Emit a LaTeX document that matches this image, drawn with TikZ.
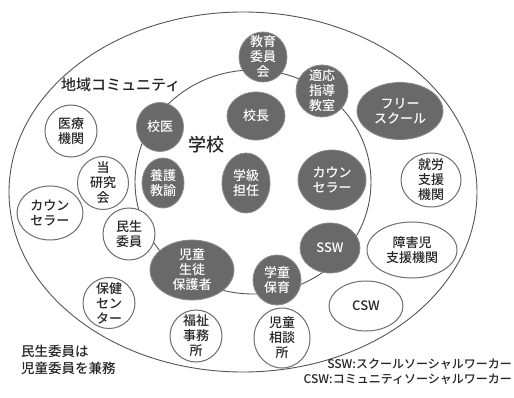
\documentclass[tikz,border=0pt]{standalone}
\usepackage{fontspec}
\newfontfamily\jp{Noto Sans CJK JP Medium}
\usetikzlibrary{shapes.geometric}
\definecolor{dkfill}{RGB}{105,105,105}
\definecolor{dkline}{RGB}{140,140,140}
\definecolor{ltline}{RGB}{110,110,110}
\definecolor{ringline}{RGB}{85,85,85}
\tikzset{
  dk/.style={ellipse, fill=dkfill, draw=dkline, line width=0.8pt, inner sep=0pt},
  lt/.style={ellipse, fill=white, draw=ltline, line width=1pt, inner sep=0pt},
  dt/.style={text=white, align=center, font=\jp\fontsize{13}{15}\selectfont},
  lx/.style={text=black!85, align=center, font=\jp\fontsize{13}{15}\selectfont},
  ring/.style={draw=ringline, line width=0.9pt},
  note/.style={text=black!85, align=left, font=\jp\fontsize{13.5}{17}\selectfont, inner sep=0pt}
}
\begin{document}
\begin{tikzpicture}[x=1pt,y=-1pt]
\useasboundingbox[fill=white] (0,0) rectangle (514,398);
% rings
\draw[ring] (243,192) ellipse [x radius=234, y radius=180];
\draw[ring] (253,182) ellipse [x radius=118, y radius=112];
% labels
\node[text=black!85, font=\jp\fontsize{15}{17}\selectfont, anchor=west, inner sep=0pt] (chiiki) at (61,85) {地域コミュニティ};
\node[text=black!85, font=\jp\fontsize{18}{20}\selectfont, inner sep=0pt] (gakko) at (206,145) {学校};
% dark nodes
\node[dk, minimum width=48pt, minimum height=50pt, label={[dt]center:{教育\\委員\\会}}] (kyoi) at (263,57) {};
\node[dk, minimum width=52pt, minimum height=52pt, label={[dt]center:{適応\\指導\\教室}}] (tekio) at (322,91) {};
\node[dk, minimum width=86pt, minimum height=57pt, label={[dt]center:{フリー\\スクール}}] (free) at (400,111) {};
\node[dk, minimum width=58pt, minimum height=48pt, label={[dt]center:{校長}}] (kocho) at (256,116) {};
\node[dk, minimum width=47pt, minimum height=49pt, label={[dt]center:{校医}}] (koi) at (160,127) {};
\node[dk, minimum width=42pt, minimum height=50pt, label={[dt]center:{養護\\教諭}}] (yogo) at (163,183) {};
\node[dk, minimum width=48pt, minimum height=60pt, label={[dt]center:{学級\\担任}}] (tannin) at (246,183) {};
\node[dk, minimum width=68pt, minimum height=60pt, label={[dt]center:{カウン\\セラー}}] (counS) at (332,180) {};
\node[dk, minimum width=60pt, minimum height=50pt, label={[dt]center:{SSW}}] (ssw) at (330,248) {};
\node[dk, minimum width=48pt, minimum height=50pt, label={[dt]center:{学童\\保育}}] (gakudo) at (277,280) {};
\node[dk, minimum width=84pt, minimum height=60pt, label={[dt]center:{児童\\生徒\\保護者}}] (hogo) at (192,270) {};
% light nodes
\node[lt, minimum width=52pt, minimum height=52pt, label={[lx]center:{医療\\機関}}] (iryo) at (71,131) {};
\node[lt, minimum width=51pt, minimum height=53pt, label={[lx]center:{当\\研究\\会}}] (kenkyu) at (103,183) {};
\node[lt, minimum width=66pt, minimum height=54pt, label={[lx]center:{カウン\\セラー}}] (counC) at (50,213) {};
\node[lt, minimum width=52pt, minimum height=52pt, label={[lx]center:{民生\\委員}}] (minsei) at (129,234) {};
\node[lt, minimum width=52pt, minimum height=51pt, label={[lx]center:{保健\\セン\\ター}}] (hoken) at (109,303) {};
\node[lt, minimum width=52pt, minimum height=52pt, label={[lx]center:{福祉\\事務\\所}}] (fukushi) at (196,336) {};
\node[lt, minimum width=56pt, minimum height=60pt, label={[lx]center:{児童\\相談\\所}}] (jiso) at (282,338) {};
\node[lt, minimum width=74pt, minimum height=50pt, label={[lx]center:{CSW}}] (csw) at (366,306) {};
\node[lt, minimum width=90pt, minimum height=56pt, label={[lx]center:{障害児\\支援機関}}] (shogai) at (412,250) {};
\node[lt, minimum width=60pt, minimum height=54pt, label={[lx]center:{就労\\支援\\機関}}] (shuro) at (431,180) {};
% notes
\node[note, anchor=north west] (minnote) at (21,345) {民生委員は\\児童委員を兼務};
\node[text=black!85, font=\jp\fontsize{12}{15}\selectfont, anchor=north east, inner sep=0pt, align=right] (abbr) at (512,359) {SSW:スクールソーシャルワーカー\\CSW:コミュニティソーシャルワーカー};
\end{tikzpicture}
\end{document}
